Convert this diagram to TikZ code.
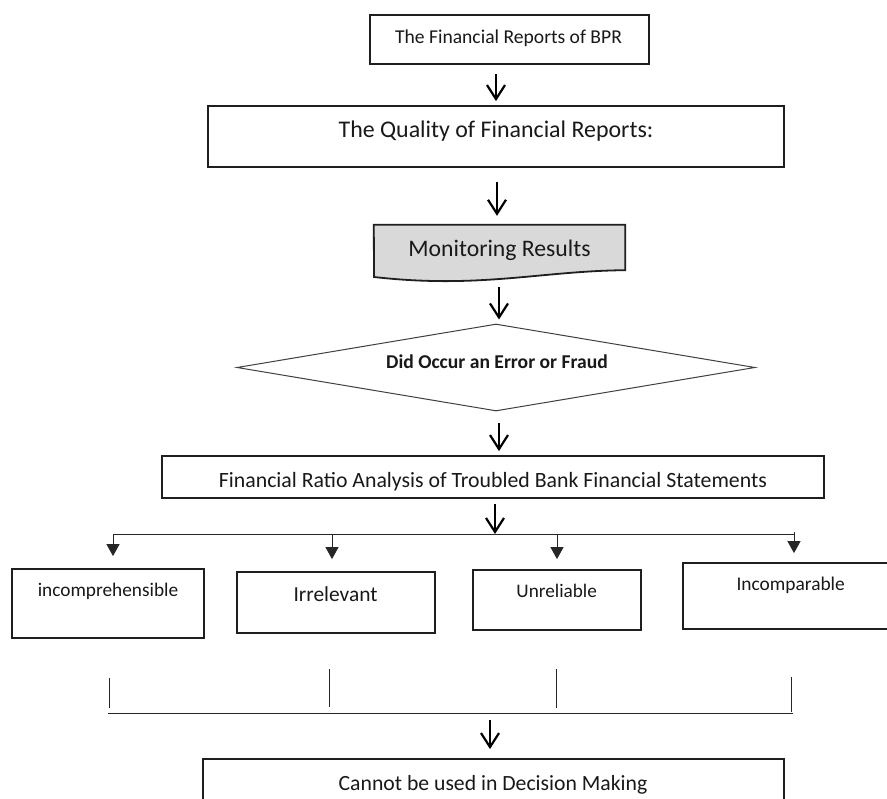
\documentclass[tikz,border=0pt]{standalone}
\usepackage{fontspec}
\setmainfont{Carlito}
\usetikzlibrary{arrows.meta,calc,shapes.geometric}
\tikzset{
  box/.style={draw=black!88, line width=1.8pt, inner sep=0pt, rectangle},
  bigarr/.style={line width=2.2pt, -{Straight Barb[length=14pt,width=18pt]}},
  smallarr/.style={line width=1pt, draw=black!85, -{Triangle[length=12pt,width=13pt]}},
  thinline/.style={line width=1pt, draw=black!85},
  txt/.style={anchor=base, inner sep=0pt, text=black!90},
}
\newcommand{\fs}[1]{\fontsize{#1}{#1}\selectfont}
\begin{document}
\begin{tikzpicture}[x=1pt,y=-1pt]
\useasboundingbox (0,0) rectangle (887,799);
\clip (0,0) rectangle (887,799);
\fill[white] (0,0) rectangle (887,799);

% boxes
\node[box, minimum width=279pt, minimum height=49pt] (b1) at (509.5,39.5) {};
\node[box, minimum width=576pt, minimum height=61pt] (b2) at (496,136.5) {};
\node[inner sep=0pt, minimum width=251pt, minimum height=45pt] (mon) at (499.5,247.5) {};
\draw[line width=1.8pt, draw=black!88, fill={rgb,255:red,217;green,217;blue,217}]
  (mon.north west) -- (mon.north east) -- (mon.south east)
  .. controls (540,271) and (480,289) .. (374,277) -- cycle;
\node[diamond, draw=black!75, line width=1pt, inner sep=0pt, minimum width=518pt, minimum height=87pt] (dia) at (496,367.5) {};
\node[box, minimum width=662pt, minimum height=42pt] (fr) at (493,477) {};
\node[box, minimum width=192pt, minimum height=69pt] (c1) at (108,603.5) {};
\node[box, minimum width=198pt, minimum height=61pt] (c2) at (336,602.5) {};
\node[box, minimum width=168pt, minimum height=60pt] (c3) at (557,600) {};
\node[box, minimum width=215pt, minimum height=66pt] (c4) at (790.5,596) {};
\node[box, minimum width=581pt, minimum height=71pt] (bot) at (493.5,794.5) {};

% texts
\node[txt] (t1) at (508.5,43.3) {\fs{19.6}The Financial Reports of BPR};
\node[txt] (t2) at (496,137.7) {\fs{23.9}The Quality of Financial Reports:};
\node[txt] (t3) at (499.5,256.5) {\fs{23.7}Monitoring Results};
\node[txt] (t4) at (497,368.5) {\fs{19.6}\bfseries Did Occur an Error or Fraud};
\node[txt] (t5) at (493,487.5) {\fs{21.8}Financial Ratio Analysis of Troubled Bank Financial Statements};
\node[txt] (t6) at (108,596.7) {\fs{19.3}incomprehensible};
\node[txt] (t7) at (335.5,601.7) {\fs{21.4}Irrelevant};
\node[txt] (t8) at (556.7,597.3) {\fs{19.2}Unreliable};
\node[txt] (t9) at (790.7,590.7) {\fs{19.4}Incomparable};
\node[txt] (t10) at (493,790) {\fs{21.7}Cannot be used in Decision Making};

% main arrows
\draw[bigarr] ($(b1.south)+(-13.5,9)$) -- ($(b2.north)+(0,-4)$);
\draw[bigarr] ($(b2.south)+(1,14)$) -- ($(mon.north)+(-2.5,-9)$);
\draw[bigarr] ($(mon.south)+(-0.5,17)$) -- ($(dia.north)+(3,-4)$);
\draw[bigarr] ($(dia.south)+(3,12)$) -- ($(fr.north)+(6,-4)$);

% branch
\coordinate (p1) at (113,535);
\coordinate (p2) at (332,535);
\coordinate (p3) at (557,535);
\coordinate (p4) at (794,535);
\coordinate (br) at (495,534);
\draw[bigarr] ($(fr.south)+(2,5)$) -- (br);
\draw[thinline] (p1) -- (p4);
\draw[smallarr] (p1) -- ($(c1.north)+(5,-12)$);
\draw[smallarr] (p2) -- ($(c2.north)+(-4,-12)$);
\draw[smallarr] (p3) -- ($(c3.north)+(0,-10)$);
\draw[smallarr] ([yshift=3pt]p4) -- ($(c4.north)+(3.5,-9)$);

% lower lines
\draw[thinline] ($(c1.south)+(1,39)$) -- ($(c1.south)+(1,69)$);
\draw[thinline] ($(c2.south)+(-7,35)$) -- ($(c2.south)+(-7,73)$);
\draw[thinline] ($(c3.south)+(-1,38)$) -- ($(c3.south)+(-1,77)$);
\draw[thinline] ($(c4.south)+(0.5,47)$) -- ($(c4.south)+(0.5,82)$);
\coordinate (m1) at (108,713);
\coordinate (m2) at (793,713);
\draw[thinline] (m1) -- (m2);
\coordinate (a6) at (490,720);
\draw[bigarr] (a6) -- ($(bot.north)+(-3.5,-9)$);
\end{tikzpicture}
\end{document}
